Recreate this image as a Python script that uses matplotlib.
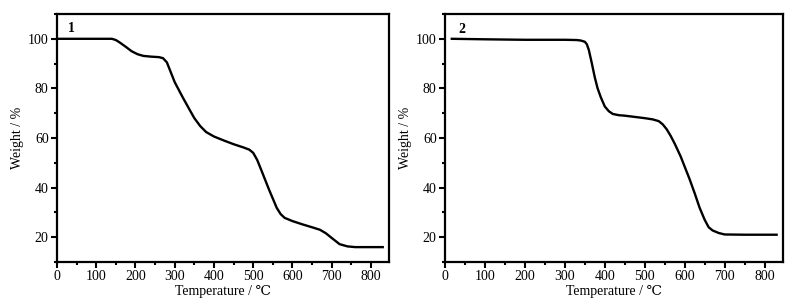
import matplotlib
matplotlib.use('Agg')
import matplotlib.pyplot as plt
from matplotlib.ticker import MultipleLocator

plt.rcParams['font.family'] = ['Liberation Serif', 'DejaVu Serif', 'Noto Sans CJK SC']
plt.rcParams['font.size'] = 10

# TGA curve of sample 1
temp1 = [0, 140, 150, 160, 175, 190, 205, 220, 240, 260, 270, 280, 290, 300, 320, 340, 350,
         365, 380, 400, 425, 450, 475, 490, 500, 510, 520, 540, 560, 570, 580, 600, 625, 650,
         670, 685, 700, 720, 740, 760, 800, 830]
weight1 = [100, 100, 99.5, 98.5, 96.8, 95.0, 93.8, 93.1, 92.8, 92.6, 92.2, 90.5, 86.5, 82.5,
           76.5, 70.8, 68.0, 64.8, 62.4, 60.6, 59.0, 57.5, 56.2, 55.3, 54.0, 51.2, 47.3, 39.3,
           31.8, 29.3, 27.8, 26.5, 25.2, 24.0, 23.0, 21.6, 19.7, 17.2, 16.3, 16.0, 16.0, 16.0]

# TGA curve of sample 2
temp2 = [17, 100, 200, 300, 330, 340, 350, 355, 360, 367, 375, 382, 390, 400, 410, 420, 435,
         450, 475, 500, 520, 535, 545, 555, 565, 575, 590, 600, 612, 625, 637, 650, 660, 670,
         685, 700, 750, 830]
weight2 = [100, 99.8, 99.6, 99.6, 99.5, 99.3, 98.8, 97.8, 95.5, 90.5, 84.4, 80.0, 76.4, 72.7,
           70.8, 69.7, 69.2, 69.0, 68.5, 68.0, 67.5, 66.8, 65.5, 63.5, 60.8, 57.7, 52.5, 48.4,
           43.5, 37.7, 32.0, 27.0, 24.0, 22.7, 21.7, 21.1, 21.0, 21.0]

fig = plt.figure(figsize=(8.11, 3.06), dpi=100)
ax1 = fig.add_axes([57/811, 1 - 262/306, 332/811, 248/306])
ax2 = fig.add_axes([445/811, 1 - 262/306, 338/811, 248/306])

for ax, t, w, tag, tagpos in [(ax1, temp1, weight1, '1', (36, 104.3)),
                              (ax2, temp2, weight2, '2', (42, 103.8))]:
    ax.plot(t, w, color='black', lw=1.7)
    ax.set_xlim(0, 846)
    ax.set_ylim(10, 110)
    ax.xaxis.set_major_locator(MultipleLocator(100))
    ax.xaxis.set_minor_locator(MultipleLocator(50))
    ax.yaxis.set_minor_locator(MultipleLocator(10))
    ax.set_yticks([20, 40, 60, 80, 100])
    ax.tick_params(which='major', direction='out', length=4, width=1.5)
    ax.tick_params(which='minor', direction='out', length=2.5, width=1.5)
    ax.tick_params(axis='both', labelsize=10, pad=2)
    for sp in ax.spines.values():
        sp.set_linewidth(1.6)
    ax.set_xlabel('Temperature / ℃', labelpad=1)
    ax.set_ylabel('Weight / %', labelpad=3)
    ax.text(tagpos[0], tagpos[1], tag, fontweight='bold', fontsize=10, ha='center', va='center')

fig.savefig('out.png', dpi=100)
